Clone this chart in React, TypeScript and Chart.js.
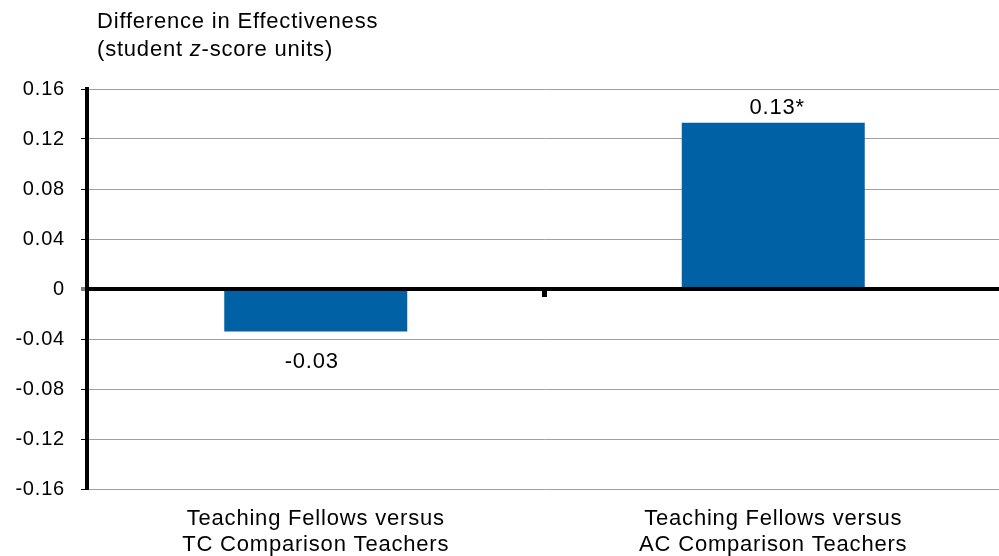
import React, { useEffect, useRef } from "react";
import { Chart, registerables } from "chart.js";

Chart.register(...registerables);

const categories: string[][] = [
  ["Teaching Fellows versus", "TC Comparison Teachers"],
  ["Teaching Fellows versus", "AC Comparison Teachers"],
];
const values: number[] = [-0.034, 0.133];
const valueLabels: string[] = ["-0.03", "0.13*"];
const yTickValues: number[] = [-0.16, -0.12, -0.08, -0.04, 0, 0.04, 0.08, 0.12, 0.16];
const yTickLabels: string[] = ["-0.16", "-0.12", "-0.08", "-0.04", "0", "0.04", "0.08", "0.12", "0.16"];
const titleLine1 = "Difference in Effectiveness";
const titleLine2Parts: [string, boolean][] = [["(student ", false], ["z", true], ["-score units)", false]];

const FONT = "'Liberation Sans', Arial, sans-serif";
const SPACING = "0.8px";

export default function App() {
  const ref = useRef<HTMLCanvasElement | null>(null);
  useEffect(() => {
    document.body.style.margin = "0";
    document.body.style.overflow = "hidden";
    const canvas = ref.current!;
    const setSpacing = (chart: any) => {
      (chart.ctx as any).letterSpacing = SPACING;
    };
    const overlay = {
      id: "overlay",
      beforeInit: setSpacing,
      beforeUpdate: setSpacing,
      beforeLayout: setSpacing,
      beforeDraw: setSpacing,
      afterDraw(chart: any) {
        const ctx = chart.ctx;
        const x = chart.scales.x;
        const y = chart.scales.y;
        ctx.save();
        ctx.letterSpacing = SPACING;
        // category boundary tick on zero line
        const zy = y.getPixelForValue(0);
        const bx = (x.getPixelForValue(0) + x.getPixelForValue(1)) / 2;
        ctx.fillStyle = "#000";
        ctx.fillRect(bx - 2.5, zy, 5, 8);
        // value labels
        ctx.font = `22px ${FONT}`;
        ctx.fillStyle = "#000";
        ctx.textAlign = "center";
        const meta = chart.getDatasetMeta(0);
        meta.data.forEach((bar: any, i: number) => {
          const v = values[i];
          if (v >= 0) {
            ctx.textBaseline = "bottom";
            ctx.fillText(valueLabels[i], bar.x + 4, bar.y - 4);
          } else {
            ctx.textBaseline = "top";
            ctx.fillText(valueLabels[i], bar.x - 4, bar.y + 19);
          }
        });
        // title
        ctx.textAlign = "left";
        ctx.textBaseline = "middle";
        ctx.font = `22px ${FONT}`;
        ctx.fillText(titleLine1, 97, 22);
        let tx = 97;
        titleLine2Parts.forEach(([t, it]) => {
          ctx.font = `${it ? "italic " : ""}22px ${FONT}`;
          ctx.fillText(t, tx, 50);
          tx += ctx.measureText(t).width;
        });
        ctx.restore();
      },
    };
    const chart = new Chart(canvas, {
      type: "bar",
      data: {
        labels: categories,
        datasets: [
          {
            data: values,
            backgroundColor: "#0062A4",
            categoryPercentage: 0.8,
            barPercentage: 0.5,
          },
        ],
      },
      options: {
        animation: false,
        responsive: false,
        maintainAspectRatio: false,
        layout: { padding: { top: 89, left: 0, right: 0, bottom: 0 } },
        plugins: { legend: { display: false }, tooltip: { enabled: false } },
        scales: {
          x: {
            grid: { display: false, drawTicks: false },
            border: { display: false },
            ticks: {
              color: "#000",
              font: { family: FONT, size: 22, lineHeight: 1.18 },
              padding: 17,
              maxRotation: 0,
              autoSkip: false,
            },
            afterFit(scale: any) {
              scale.height = 67;
            },
          },
          y: {
            min: -0.16,
            max: 0.16,
            afterBuildTicks(scale: any) {
              scale.ticks = yTickValues.map((v) => ({ value: v }));
            },
            grid: {
              color: (c: any) => (c.tick && c.tick.value === 0 ? "#000" : "#A0A0A0"),
              lineWidth: (c: any) => (c.tick && c.tick.value === 0 ? 4 : 1),
              tickColor: (c: any) => (c.tick && c.tick.value === 0 ? "#808080" : "#000"),
              tickLength: 6,
            },
            border: { display: true, color: "#000", width: 4 },
            ticks: {
              color: "#000",
              font: { family: FONT, size: 20 },
              padding: 16,
              callback: (_v: any, i: number) => yTickLabels[i],
            },
            afterFit(scale: any) {
              scale.width = 87;
            },
          },
        },
      },
      plugins: [overlay],
    });
    return () => chart.destroy();
  }, []);
  return (
    <div style={{ width: 1002, height: 556 }}>
      <canvas ref={ref} width={1002} height={556} style={{ display: "block" }} />
    </div>
  );
}
